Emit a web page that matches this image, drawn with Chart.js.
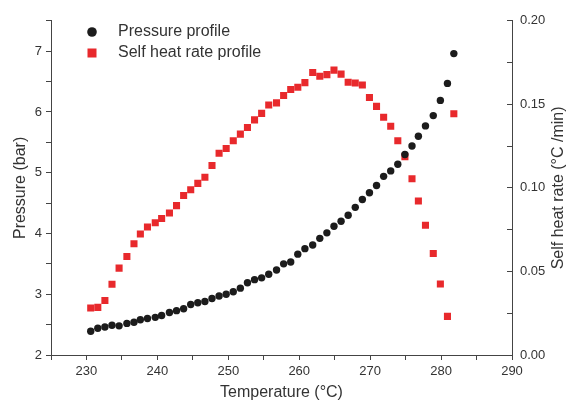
<!DOCTYPE html>
<html>
<head>
<meta charset="utf-8">
<script src="https://cdn.jsdelivr.net/npm/chart.js@4.4.0/dist/chart.umd.min.js"></script>
<style>
  body { margin: 0; background: #fff; }
  canvas { display: block; }
</style>
</head>
<body>
<canvas id="myChart" width="572" height="402"></canvas>
<script>
// temperatures (°C) shared by both profiles
const temperatures = [
    230.6, 231.6, 232.6, 233.6, 234.6, 235.7, 236.7, 237.6, 238.6, 239.7,
    240.6, 241.7, 242.7, 243.7, 244.7, 245.7, 246.7, 247.7, 248.7, 249.7,
    250.7, 251.7, 252.7, 253.7, 254.7, 255.7, 256.8, 257.8, 258.8, 259.8,
    260.8, 261.9, 262.9, 263.9, 264.9, 265.9, 266.9, 267.9, 268.9, 269.9,
    270.9, 271.9, 272.9, 273.9, 274.9, 275.9, 276.8, 277.8, 278.9, 279.9,
    280.9, 281.8
];

// pressure (bar)
const pressure = [
    2.39, 2.44, 2.46, 2.49, 2.48, 2.52, 2.54, 2.58, 2.60, 2.62,
    2.65, 2.70, 2.73, 2.76, 2.83, 2.86, 2.88, 2.93, 2.97, 3.00,
    3.04, 3.10, 3.19, 3.24, 3.27, 3.33, 3.40, 3.50, 3.53, 3.66,
    3.75, 3.81, 3.92, 4.01, 4.12, 4.20, 4.30, 4.43, 4.56, 4.67,
    4.79, 4.94, 5.03, 5.14, 5.30, 5.44, 5.60, 5.77, 5.94, 6.19,
    6.47, 6.96
];

// self heat rate (°C/min)
const selfHeatRate = [
    0.0281, 0.0285, 0.0326, 0.0423, 0.0520, 0.0589, 0.0666, 0.0724, 0.0766, 0.0791,
    0.0817, 0.0850, 0.0894, 0.0954, 0.0989, 0.1027, 0.1064, 0.1134, 0.1207, 0.1236,
    0.1282, 0.1322, 0.1361, 0.1407, 0.1446, 0.1496, 0.1509, 0.1553, 0.1589, 0.1602,
    0.1630, 0.1691, 0.1668, 0.1678, 0.1705, 0.1681, 0.1632, 0.1628, 0.1616, 0.1541,
    0.1488, 0.1423, 0.1369, 0.1282, 0.1187, 0.1055, 0.0922, 0.0777, 0.0607, 0.0425,
    0.0231, 0.1444
];

const seriesNames = ["Pressure profile", "Self heat rate profile"];
const seriesColors = ["#1c1c1c", "#e8292c"];
const rightTitle = "Self heat rate (°C /min)";

const axisColor = "#444";
const textColor = "#333";
const fontFamily = "'Liberation Sans', Arial, sans-serif";

// legend inside the plot (top left) and the right axis title read bottom-to-top
const extraText = {
    id: "extraText",
    afterDraw(chart) {
        const ctx = chart.ctx;
        const area = chart.chartArea;
        ctx.save();
        ctx.font = "16px " + fontFamily;
        ctx.textBaseline = "middle";
        ctx.fillStyle = seriesColors[0];
        ctx.beginPath();
        ctx.arc(92, 32, 4.8, 0, Math.PI * 2);
        ctx.fill();
        ctx.fillStyle = seriesColors[1];
        ctx.fillRect(87.5, 48.5, 9, 9);
        ctx.fillStyle = textColor;
        ctx.fillText(seriesNames[0], 118, 32);
        ctx.fillText(seriesNames[1], 118, 53);

        ctx.translate(559, (area.top + area.bottom) / 2);
        ctx.rotate(-Math.PI / 2);
        ctx.textAlign = "center";
        ctx.fillText(rightTitle, 0, 0);
        ctx.restore();
    }
};

new Chart("myChart", {
    type: "scatter",
    data: {
        datasets: [{
            label: seriesNames[0],
            data: temperatures.map((t, i) => ({ x: t, y: pressure[i] })),
            yAxisID: "y",
            pointStyle: "circle",
            pointRadius: 3.7,
            borderWidth: 0,
            backgroundColor: seriesColors[0]
        }, {
            label: seriesNames[1],
            data: temperatures.map((t, i) => ({ x: t, y: selfHeatRate[i] })),
            yAxisID: "y1",
            pointStyle: "rect",
            pointRadius: 5,
            borderWidth: 0,
            backgroundColor: seriesColors[1]
        }]
    },
    options: {
        responsive: false,
        animation: false,
        layout: { padding: { top: 18, left: 0, right: 0, bottom: 0 } },
        plugins: {
            legend: { display: false },
            tooltip: { enabled: false }
        },
        scales: {
            x: {
                type: "linear",
                min: 225,
                max: 290,
                border: { display: true, color: axisColor, width: 1 },
                grid: { drawOnChartArea: false, drawTicks: true, tickLength: 5, color: axisColor },
                ticks: {
                    stepSize: 5,
                    autoSkip: false,
                    maxRotation: 0,
                    padding: 4,
                    color: textColor,
                    font: { family: fontFamily, size: 13 },
                    callback: v => (v % 10 === 0 ? v : "")
                },
                title: {
                    display: true,
                    text: "Temperature (°C)",
                    color: textColor,
                    font: { family: fontFamily, size: 16 },
                    padding: { top: 0, bottom: 0 }
                },
                afterFit: s => { s.height = 47; }
            },
            y: {
                position: "left",
                min: 2,
                max: 7.5,
                border: { display: true, color: axisColor, width: 1 },
                grid: { drawOnChartArea: false, drawTicks: true, tickLength: 5, color: axisColor },
                ticks: {
                    stepSize: 0.5,
                    autoSkip: false,
                    padding: 4,
                    color: textColor,
                    font: { family: fontFamily, size: 13 },
                    callback: v => (Number.isInteger(v) ? v : "")
                },
                title: {
                    display: true,
                    text: "Pressure (bar)",
                    color: textColor,
                    font: { family: fontFamily, size: 16 },
                    padding: { top: 11, bottom: 0 }
                },
                afterFit: s => { s.width = 51; }
            },
            y1: {
                position: "right",
                min: 0,
                max: 0.2,
                border: { display: true, color: axisColor, width: 1 },
                grid: { drawOnChartArea: false, drawTicks: true, tickLength: -5, color: axisColor },
                ticks: {
                    stepSize: 0.025,
                    autoSkip: false,
                    padding: 13,
                    color: textColor,
                    font: { family: fontFamily, size: 13 },
                    callback: v => (Math.abs(v * 20 - Math.round(v * 20)) < 1e-6 ? v.toFixed(2) : "")
                },
                title: { display: false },
                afterFit: s => { s.width = 60; }
            }
        }
    },
    plugins: [extraText]
});
</script>
</body>
</html>
